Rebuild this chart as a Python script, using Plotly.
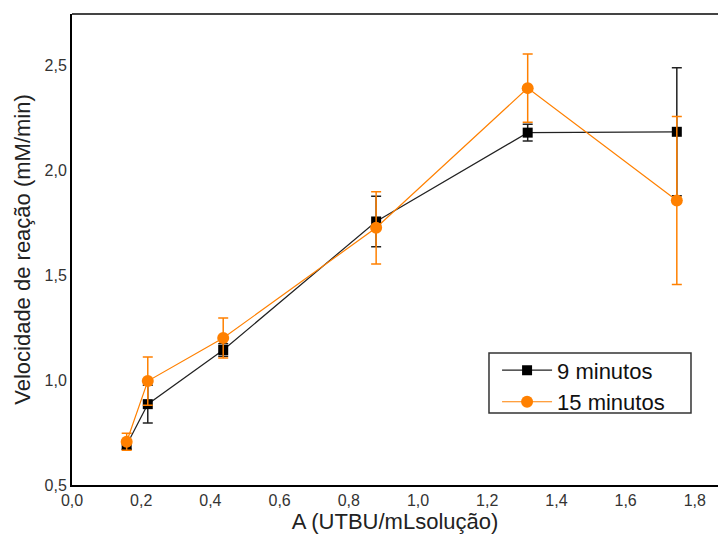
import plotly.graph_objects as go

# Enzyme activity (UTBU/mL solução) and reaction velocity (mM/min)
atividade = [0.158, 0.219, 0.437, 0.879, 1.317, 1.748]

v_9min = [0.69, 0.885, 1.143, 1.755, 2.178, 2.182]
err_9min = [0.02, 0.09, 0.03, 0.12, 0.04, 0.305]

v_15min = [0.706, 0.995, 1.20, 1.725, 2.39, 1.855]
err_15min = [0.04, 0.115, 0.095, 0.172, 0.162, 0.40]

x_ticks = [0.0, 0.2, 0.4, 0.6, 0.8, 1.0, 1.2, 1.4, 1.6, 1.8]
y_ticks = [0.5, 1.0, 1.5, 2.0, 2.5]

laranja = "#FF8000"
font_family = "Liberation Sans, Arial, sans-serif"

fig = go.Figure()

fig.add_trace(go.Scatter(
    x=atividade, y=v_9min, name="9 minutos",
    mode="lines+markers",
    line=dict(color="#222222", width=1.2),
    marker=dict(symbol="square", size=10, color="black"),
    error_y=dict(type="data", array=err_9min, color="#222222",
                 thickness=1.5, width=5),
))

fig.add_trace(go.Scatter(
    x=atividade, y=v_15min, name="15 minutos",
    mode="lines+markers",
    line=dict(color=laranja, width=1.2),
    marker=dict(symbol="circle", size=12, color=laranja),
    error_y=dict(type="data", array=err_15min, color=laranja,
                 thickness=1.5, width=5),
))

fig.update_layout(
    width=718, height=535,
    margin=dict(l=72, r=0, t=14, b=50),
    paper_bgcolor="white", plot_bgcolor="white",
    separators=",.",
    font=dict(family=font_family, color="#333333"),
    showlegend=True,
    legend=dict(
        x=0.658, y=0.288, xanchor="left", yanchor="top",
        borderwidth=0, bgcolor="rgba(0,0,0,0)",
        font=dict(size=22, color="#111111", family=font_family),
        itemwidth=50, tracegroupgap=0,
    ),
    xaxis=dict(
        range=[0, 1.867], tickvals=x_ticks, tickformat=".1f",
        showgrid=False, zeroline=False,
        showline=True, linecolor="black", linewidth=2,
        ticks="", ticklen=0, tickfont=dict(size=16, color="#333333"),
        title=dict(text="A (UTBU/mLsolução)",
                   font=dict(size=22, color="#222222"), standoff=5),
    ),
    yaxis=dict(
        range=[0.5, 2.743], tickvals=y_ticks, tickformat=".1f",
        showgrid=False, zeroline=False,
        showline=True, linecolor="black", linewidth=2,
        ticks="", ticklen=0, tickfont=dict(size=16, color="#333333"),
        title=dict(text="Velocidade de reação (mM/min)",
                   font=dict(size=22, color="#222222"), standoff=8),
    ),
    shapes=[
        # frame top edge
        dict(type="line", xref="paper", yref="paper",
             x0=0, x1=1, y0=1, y1=1,
             line=dict(color="#444444", width=2)),
        # legend box
        dict(type="rect", xref="paper", yref="paper",
             x0=0.6455, x1=0.9582, y0=0.1529, y1=0.2803,
             line=dict(color="#333333", width=1.5),
             fillcolor="rgba(0,0,0,0)", layer="above"),
    ],
)

fig.write_html("out.html")
